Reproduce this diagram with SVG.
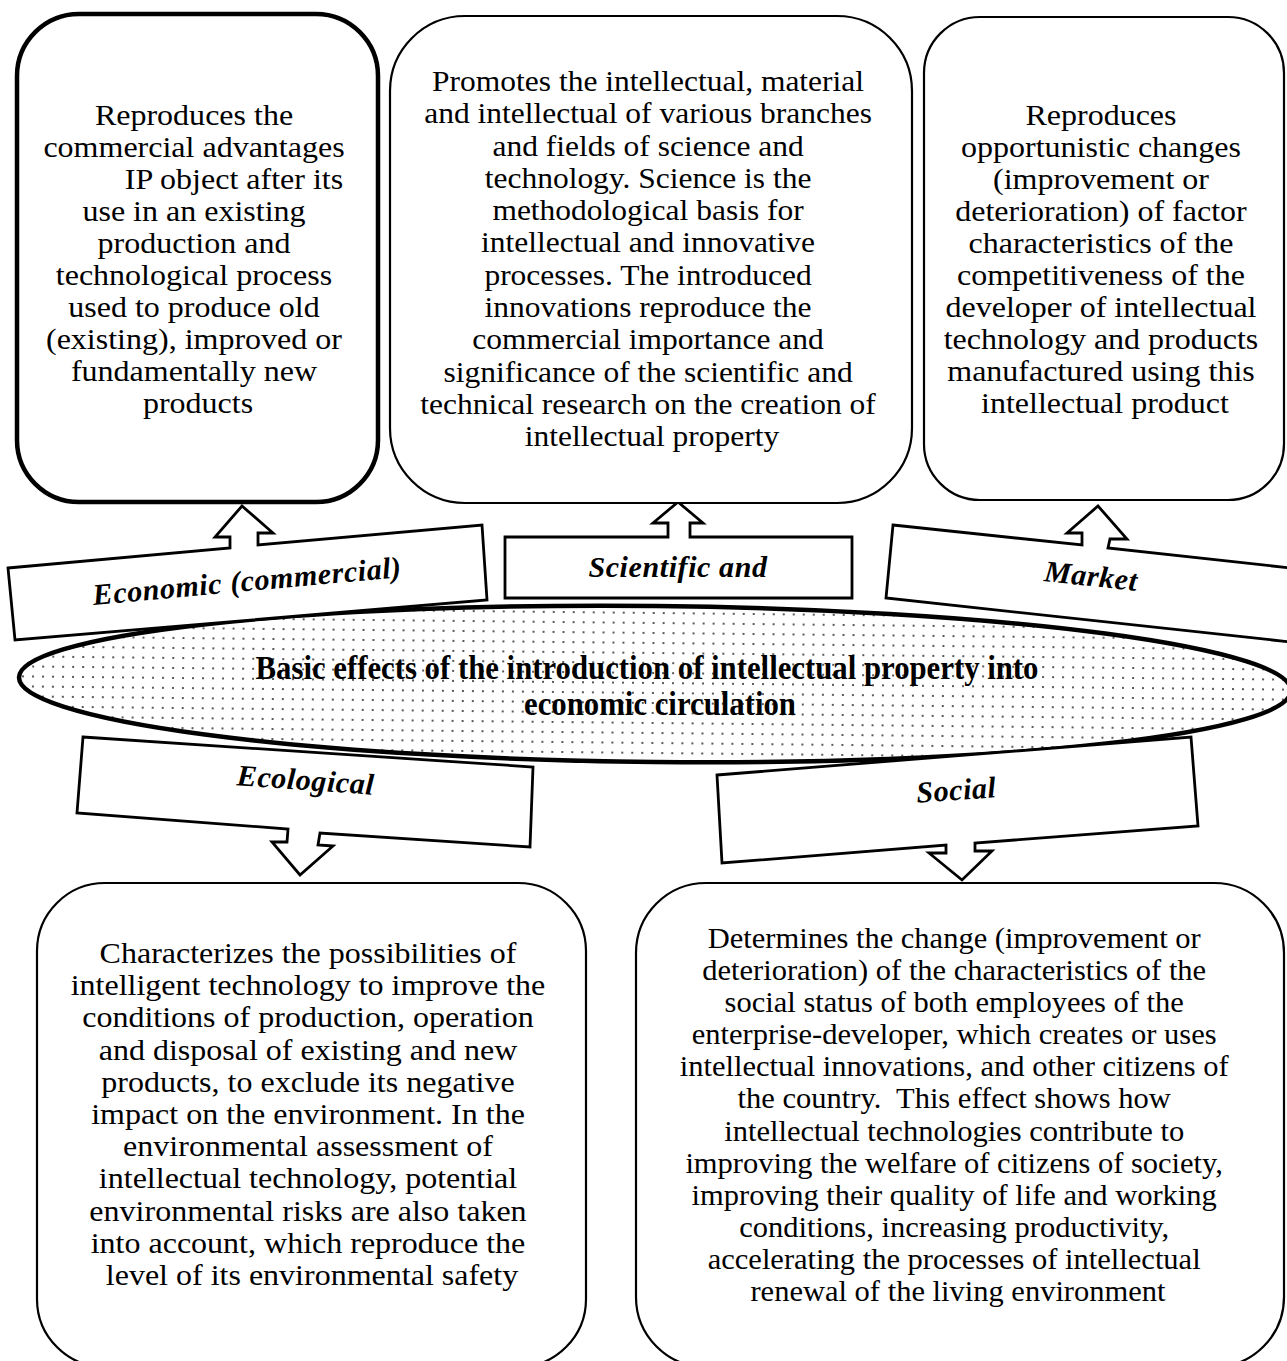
<svg xmlns="http://www.w3.org/2000/svg" width="1287" height="1361" viewBox="0 0 1287 1361">
  <defs>
    <pattern id="dots" width="10" height="10" patternUnits="userSpaceOnUse">
      <rect width="10" height="10" fill="#fff"/>
      <circle cx="3" cy="3" r="1" fill="#222"/>
    </pattern>
    <style>
      .box { fill: #fff; stroke: #000; stroke-width: 2.2; }
      .box-bold { fill: #fff; stroke: #000; stroke-width: 4.5; }
      .arrow { fill: #fff; stroke: #000; stroke-width: 2.8; stroke-linejoin: miter; }
      .body { font-family: "Liberation Serif", "Times New Roman", serif; font-size: 30px; fill: #000; text-anchor: middle; }
      .label { font-family: "Liberation Serif", "Times New Roman", serif; font-size: 30px; font-weight: bold; font-style: italic; fill: #000; text-anchor: middle; letter-spacing: 0.6px; }
      .title { font-family: "Liberation Serif", "Times New Roman", serif; font-size: 34px; font-weight: bold; fill: #000; text-anchor: middle; }
    </style>
  </defs>
  <rect width="1287" height="1361" fill="#fff"/>

  <!-- central ellipse -->
  <g id="center">
    <ellipse cx="655" cy="684" rx="636" ry="78" transform="rotate(0.6 655 684)" fill="url(#dots)" stroke="#000" stroke-width="4.5"/>
    <text class="title" transform="translate(647 679) scale(0.905 1)">Basic effects of the introduction of intellectual property into</text>
    <text class="title" transform="translate(660 715) scale(0.905 1)">economic circulation</text>
  </g>

  <!-- effect arrows linking the ellipse with the description boxes -->
  <g id="connectors">
    <g id="arrow-economic">
      <polygon class="arrow" points="8,568 230,548 230,537 215,537 242,506 273,533 258,533 258,545 482,525 487,600 15,640"/>
      <text class="label" x="248" y="591" transform="rotate(-5.2 248 591)">Economic (commercial)</text>
    </g>
    <g id="arrow-scientific">
      <polygon class="arrow" points="505,537 668,537 668,523 653,523 678,502 703,523 690,523 690,537 852,537 852,598 505,598"/>
      <text class="label" x="678" y="577">Scientific and</text>
    </g>
    <g id="arrow-market">
      <polygon class="arrow" points="893,525 1082,545 1082,533 1067,533 1098,506 1127,539 1110,539 1108,548 1300,569 1300,643 886,598"/>
      <text class="label" x="1090" y="586" transform="rotate(6 1090 586)">Market</text>
    </g>
    <g id="arrow-ecological">
      <polygon class="arrow" points="83,737 533,767 530,847 320,833 318,845 333,846 300,875 272,842 287,842 288,829 77,813"/>
      <text class="label" x="305" y="790" transform="rotate(4 305 790)">Ecological</text>
    </g>
    <g id="arrow-social">
      <polygon class="arrow" points="717,775 1191,737 1198,826 975,843 975,851 992,851 962,880 929,853 946,853 946,845 722,863"/>
      <text class="label" x="957" y="800" transform="rotate(-4 957 800)">Social</text>
    </g>
  </g>

  <!-- description boxes; text is widened slightly to the printed line widths -->
  <g id="box-economic">
    <rect class="box-bold" x="17" y="14" width="361" height="488" rx="62" ry="62"/>
    <text class="body" transform="translate(198 0) scale(1.067 1)">
      <tspan x="0" y="125">Reproduces the</tspan>
      <tspan x="0" dy="32">commercial advantages</tspan>
      <tspan x="37.5" dy="32">IP object after its</tspan>
      <tspan x="0" dy="32">use in an existing</tspan>
      <tspan x="0" dy="32">production and</tspan>
      <tspan x="0" dy="32">technological process</tspan>
      <tspan x="0" dy="32">used to produce old</tspan>
      <tspan x="0" dy="32">(existing), improved or</tspan>
      <tspan x="0" dy="32">fundamentally new</tspan>
      <tspan x="0" dy="32">products</tspan>
    </text>
  </g>

  <g id="box-scientific">
    <rect class="box" x="390" y="16" width="522" height="487" rx="75" ry="75"/>
    <text class="body" transform="translate(652 0) scale(1.05 1)">
      <tspan x="0" y="91">Promotes the intellectual, material</tspan>
      <tspan x="0" dy="32.3">and intellectual of various branches</tspan>
      <tspan x="0" dy="32.3">and fields of science and</tspan>
      <tspan x="0" dy="32.3">technology. Science is the</tspan>
      <tspan x="0" dy="32.3">methodological basis for</tspan>
      <tspan x="0" dy="32.3">intellectual and innovative</tspan>
      <tspan x="0" dy="32.3">processes. The introduced</tspan>
      <tspan x="0" dy="32.3">innovations reproduce the</tspan>
      <tspan x="0" dy="32.3">commercial importance and</tspan>
      <tspan x="0" dy="32.3">significance of the scientific and</tspan>
      <tspan x="0" dy="32.3">technical research on the creation of</tspan>
      <tspan x="0" dy="32.3">intellectual property</tspan>
    </text>
  </g>

  <g id="box-market">
    <rect class="box" x="924" y="17" width="360" height="483" rx="56" ry="56"/>
    <text class="body" transform="translate(1105 0) scale(1.067 1)">
      <tspan x="0" y="125">Reproduces</tspan>
      <tspan x="0" dy="32">opportunistic changes</tspan>
      <tspan x="0" dy="32">(improvement or</tspan>
      <tspan x="0" dy="32">deterioration) of factor</tspan>
      <tspan x="0" dy="32">characteristics of the</tspan>
      <tspan x="0" dy="32">competitiveness of the</tspan>
      <tspan x="0" dy="32">developer of intellectual</tspan>
      <tspan x="0" dy="32">technology and products</tspan>
      <tspan x="0" dy="32">manufactured using this</tspan>
      <tspan x="0" dy="32">intellectual product</tspan>
    </text>
  </g>

  <g id="box-ecological">
    <rect class="box" x="37" y="883" width="549" height="484" rx="68" ry="68"/>
    <text class="body" transform="translate(312 0) scale(1.067 1)">
      <tspan x="0" y="963">Characterizes the possibilities of</tspan>
      <tspan x="0" dy="32.2">intelligent technology to improve the</tspan>
      <tspan x="0" dy="32.2">conditions of production, operation</tspan>
      <tspan x="0" dy="32.2">and disposal of existing and new</tspan>
      <tspan x="0" dy="32.2">products, to exclude its negative</tspan>
      <tspan x="0" dy="32.2">impact on the environment. In the</tspan>
      <tspan x="0" dy="32.2">environmental assessment of</tspan>
      <tspan x="0" dy="32.2">intellectual technology, potential</tspan>
      <tspan x="0" dy="32.2">environmental risks are also taken</tspan>
      <tspan x="0" dy="32.2">into account, which reproduce the</tspan>
      <tspan x="0" dy="32.2">level of its environmental safety</tspan>
    </text>
  </g>

  <g id="box-social">
    <rect class="box" x="636" y="883" width="648" height="484" rx="70" ry="70"/>
    <text class="body" transform="translate(958 0) scale(1.017 1)">
      <tspan x="0" y="948">Determines the change (improvement or</tspan>
      <tspan x="0" dy="32.1">deterioration) of the characteristics of the</tspan>
      <tspan x="0" dy="32.1">social status of both employees of the</tspan>
      <tspan x="0" dy="32.1">enterprise-developer, which creates or uses</tspan>
      <tspan x="0" dy="32.1">intellectual innovations, and other citizens of</tspan>
      <tspan x="0" dy="32.1" xml:space="preserve">the country.  This effect shows how</tspan>
      <tspan x="0" dy="32.1">intellectual technologies contribute to</tspan>
      <tspan x="0" dy="32.1">improving the welfare of citizens of society,</tspan>
      <tspan x="0" dy="32.1">improving their quality of life and working</tspan>
      <tspan x="0" dy="32.1">conditions, increasing productivity,</tspan>
      <tspan x="0" dy="32.1">accelerating the processes of intellectual</tspan>
      <tspan x="0" dy="32.1">renewal of the living environment</tspan>
    </text>
  </g>
</svg>
